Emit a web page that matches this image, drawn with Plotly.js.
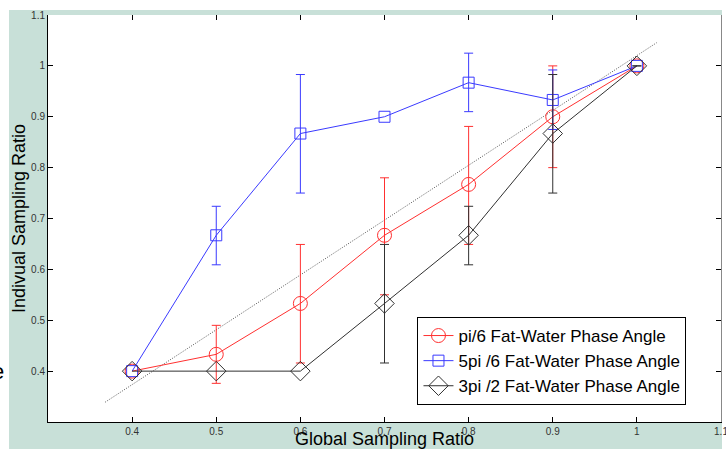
<!DOCTYPE html>
<html>
<head>
<meta charset="utf-8">
<script src="https://cdn.plot.ly/plotly-3.0.1.min.js"></script>
<style>
  html, body { margin: 0; padding: 0; background: #ffffff; }
  #bg { position: absolute; left: 9px; top: 10px; width: 713px; height: 439px; background: #c8e0d8; }
  #chart { position: absolute; left: 0; top: 0; width: 726px; height: 449px; }
</style>
</head>
<body>
<div id="bg"></div>
<div id="chart"></div>
<script>
// ---- data ----
var globalRatio = [0.4, 0.5, 0.6, 0.7, 0.8, 0.9, 1.0];

var seriesNames = [
  'pi/6 Fat-Water Phase Angle',
  '5pi /6 Fat-Water Phase Angle',
  '3pi /2 Fat-Water Phase Angle'
];

var piSixth      = [0.400, 0.433, 0.533, 0.667, 0.767, 0.900, 1.000];
var piSixthUp    = [null, 0.057, 0.116, 0.113, 0.114, 0.100, null];
var piSixthDown  = [null, 0.057, 0.117, 0.117, 0.118, 0.100, null];

var fivePiSixth     = [0.400, 0.667, 0.867, 0.900, 0.967, 0.933, 1.000];
var fivePiSixthUp   = [null, 0.057, 0.116, null, 0.058, 0.059, null];
var fivePiSixthDown = [null, 0.058, 0.117, null, 0.057, 0.058, null];

var threePiHalf     = [0.400, 0.400, 0.400, 0.533, 0.667, 0.867, 1.000];
var threePiHalfUp   = [null, null, null, 0.116, 0.057, 0.116, 0];
var threePiHalfDown = [null, null, null, 0.117, 0.058, 0.117, 0];

var refLineX = [0.368, 1.0235];
var refLineY = [0.339, 1.0455];

var tickValues = [0.4, 0.5, 0.6, 0.7, 0.8, 0.9, 1.0, 1.1];
var tickLabels = ['0.4', '0.5', '0.6', '0.7', '0.8', '0.9', '1', '1.1'];

// ---- helpers ----
function fixErr(a) { return a.map(function (v) { return v === null ? NaN : v; }); }

function series(name, y, up, down, color, symbol, size) {
  return {
    type: 'scatter', mode: 'lines+markers', name: name,
    x: globalRatio, y: y,
    line: { color: color, width: 1 },
    marker: { symbol: symbol, size: size, color: color, line: { color: color, width: 1 } },
    error_y: {
      type: 'data', symmetric: false,
      array: fixErr(up), arrayminus: fixErr(down),
      color: color, thickness: 1, width: 4.5
    }
  };
}

var traces = [
  {
    type: 'scatter', mode: 'lines', x: refLineX, y: refLineY, showlegend: false,
    hoverinfo: 'skip', line: { color: '#555555', width: 1, dash: '1px,1.5px' }
  },
  series(seriesNames[0], piSixth, piSixthUp, piSixthDown, '#ff3030', 'circle-open', 14),
  series(seriesNames[1], fivePiSixth, fivePiSixthUp, fivePiSixthDown, '#3a3aff', 'square-open', 11),
  series(seriesNames[2], threePiHalf, threePiHalfUp, threePiHalfDown, '#303030', 'diamond-open', 15)
];

var tickFont = { family: 'Liberation Sans, Arial, sans-serif', size: 10, color: '#333333' };

var layout = {
  width: 726, height: 449,
  margin: { l: 48, r: 5, t: 15, b: 27 },
  paper_bgcolor: 'rgba(0,0,0,0)',
  plot_bgcolor: '#ffffff',
  font: { family: 'Liberation Sans, Arial, sans-serif', color: '#000000' },
  showlegend: true,
  xaxis: {
    range: [0.3, 1.1], tickmode: 'array', tickvals: tickValues, ticktext: tickLabels,
    ticks: 'inside', ticklen: 5, tickcolor: '#000000', tickwidth: 1,
    showline: true, linecolor: '#000000', linewidth: 1, mirror: false,
    showgrid: false, zeroline: false, tickfont: tickFont, ticklabeloverflow: 'allow',
    title: { text: 'Global Sampling Ratio', font: { size: 18, color: '#000000' }, standoff: 0 },
    automargin: false
  },
  yaxis: {
    range: [0.3, 1.1], tickmode: 'array', tickvals: tickValues, ticktext: tickLabels,
    ticks: 'inside', ticklen: 5, tickcolor: '#000000', tickwidth: 1,
    showline: true, linecolor: '#000000', linewidth: 1, mirror: false,
    showgrid: false, zeroline: false, tickfont: tickFont, ticklabeloverflow: 'allow',
    title: { text: 'Indivual Sampling Ratio', font: { size: 18, color: '#000000' }, standoff: 0 },
    automargin: false
  },
  xaxis2: {
    overlaying: 'x', anchor: 'y', side: 'top', range: [0.3, 1.1],
    tickmode: 'array', tickvals: tickValues, ticks: 'inside', ticklen: 5,
    tickcolor: '#000000', showticklabels: false, showline: false,
    showgrid: false, zeroline: false
  },
  yaxis2: {
    overlaying: 'y', anchor: 'x', side: 'right', range: [0.3, 1.1],
    tickmode: 'array', tickvals: tickValues, ticks: 'inside', ticklen: 5,
    tickcolor: '#000000', showticklabels: false, showline: true, linecolor: '#888888',
    showgrid: false, zeroline: false
  },
  legend: {
    x: 0.549, y: 0.258, xanchor: 'left', yanchor: 'top',
    bgcolor: '#ffffff', bordercolor: '#000000', borderwidth: 1,
    font: { size: 17, color: '#000000' }
  },
  annotations: [
    { xref: 'paper', yref: 'paper', x: -0.062, y: 0.123, xanchor: 'right', yanchor: 'middle',
      text: 'e', showarrow: false, font: { size: 22, color: '#000000' } }
  ]
};

traces.push({ type: 'scatter', x: [0.3], y: [0.3], xaxis: 'x2', yaxis: 'y2', mode: 'markers',
  marker: { opacity: 0 }, showlegend: false, hoverinfo: 'skip' });

Plotly.newPlot('chart', traces, layout, { displayModeBar: false, staticPlot: true });
</script>
</body>
</html>
